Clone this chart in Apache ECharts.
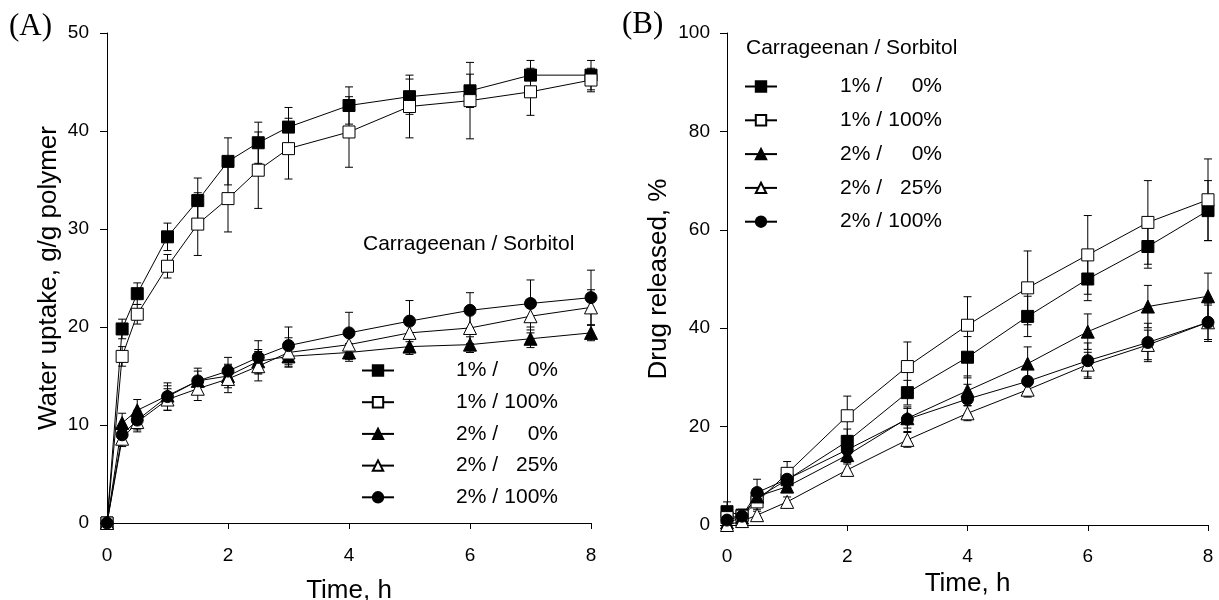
<!DOCTYPE html>
<html>
<head>
<meta charset="utf-8">
<script src="https://cdn.jsdelivr.net/npm/echarts@6/dist/echarts.min.js"></script>
<style>
  html, body { margin: 0; padding: 0; background: #fff; }
  #chart { width: 1219px; height: 600px; }
</style>
</head>
<body>
<div id="chart"></div>
<script>
const FONT = 'Arial, "Liberation Sans", sans-serif';

// legend names (carrageenan / sorbitol)
const groups = ['1% / 0%', '1% / 100%', '2% / 0%', '2% / 25%', '2% / 100%'];
const xTicks = [0, 2, 4, 6, 8];

// (A) water uptake, g/g polymer
const timeA = [0, 0.25, 0.5, 1, 1.5, 2, 2.5, 3, 4, 5, 6, 7, 8];
const uptake1_0 = [0, 19.8, 23.4, 29.2, 32.9, 36.9, 38.8, 40.4, 42.6, 43.5, 44.1, 45.7, 45.7];
const uptake1_0Err = [0, 1.0, 1.1, 1.4, 2.3, 2.4, 2.1, 2.0, 1.9, 1.8, 1.7, 1.5, 1.5];
const uptake1_100 = [0, 17.0, 21.3, 26.2, 30.5, 33.1, 36.0, 38.2, 39.9, 42.5, 43.1, 44.0, 45.2];
const uptake1_100Err = [0, 1.0, 1.0, 1.2, 3.2, 3.4, 3.9, 3.1, 3.6, 3.2, 3.9, 2.4, 1.2];
const uptake2_0 = [0, 10.2, 11.5, 13.0, 14.5, 15.0, 16.5, 17.0, 17.4, 18.0, 18.2, 18.8, 19.4];
const uptake2_0Err = [0, 1.0, 1.1, 1.0, 1.0, 1.2, 1.2, 1.0, 0.9, 0.8, 0.8, 0.9, 0.8];
const uptake2_25 = [0, 8.6, 10.3, 12.6, 13.7, 14.7, 16.0, 17.4, 18.2, 19.4, 19.9, 21.1, 22.0];
const uptake2_25Err = [0, 0.8, 1.0, 1.1, 1.2, 1.4, 1.5, 1.5, 1.5, 1.5, 1.6, 1.7, 1.8];
const uptake2_100 = [0, 9.0, 10.5, 12.9, 14.5, 15.5, 16.9, 18.1, 19.4, 20.6, 21.7, 22.4, 23.0];
const uptake2_100Err = [0, 1.0, 1.0, 1.4, 1.3, 1.4, 1.7, 1.9, 2.1, 2.1, 1.8, 2.4, 2.8];

// (B) drug released, %
const timeB = [0, 0.25, 0.5, 1, 2, 3, 4, 5, 6, 7, 8];
const release1_0 = [2.7, 2.0, 5.5, 9.2, 17.0, 26.9, 34.1, 42.4, 50.0, 56.6, 63.9];
const release1_0Err = [2.0, 1.2, 1.5, 1.5, 2.5, 2.5, 4.2, 4.1, 4.4, 4.4, 6.1];
const release1_100 = [1.5, 1.8, 4.7, 10.5, 22.2, 32.2, 40.6, 48.2, 54.9, 61.5, 66.1];
const release1_100Err = [1.5, 1.0, 1.5, 2.4, 4.0, 5.0, 5.8, 7.5, 8.0, 8.5, 8.3];
const release2_0 = [0.5, 1.5, 5.8, 7.8, 14.2, 21.7, 27.3, 32.8, 39.3, 44.4, 46.5];
const release2_0Err = [0.5, 0.8, 1.0, 1.2, 1.5, 2.0, 3.0, 3.4, 3.6, 4.3, 4.7];
const release2_25 = [0, 0.8, 2.0, 4.7, 11.2, 17.3, 22.7, 27.5, 32.6, 36.6, 41.2];
const release2_25Err = [0.3, 0.5, 0.8, 1.0, 1.2, 1.5, 1.5, 1.5, 2.5, 3.0, 3.5];
const release2_100 = [1.0, 1.8, 6.6, 9.3, 15.3, 21.5, 25.6, 29.2, 33.4, 37.1, 41.2];
const release2_100Err = [1.0, 0.8, 2.7, 1.5, 2.0, 2.5, 3.0, 3.0, 3.6, 3.9, 3.9];

// marker style per group
const markers = [
  { symbol: 'rect', size: 12, fill: '#000' },
  { symbol: 'rect', size: 12, fill: '#fff' },
  { symbol: 'triangle', size: 13, fill: '#000' },
  { symbol: 'triangle', size: 13, fill: '#fff' },
  { symbol: 'circle', size: 12, fill: '#000' }
];

function lineSeries(idx, times, values, axisIdx) {
  const m = markers[idx];
  return {
    name: groups[idx],
    type: 'line',
    xAxisIndex: axisIdx,
    yAxisIndex: axisIdx,
    data: times.map((t, i) => [t, values[i]]),
    symbol: m.symbol,
    symbolSize: m.size,
    showAllSymbol: true,
    lineStyle: { color: '#000', width: 1 },
    itemStyle: { color: m.fill, borderColor: '#000', borderWidth: 1 },
    z: 3
  };
}

function errorSeries(times, values, errs, axisIdx) {
  const pts = [];
  times.forEach((t, i) => {
    if (errs[i] > 0) pts.push([t, values[i] - errs[i], values[i] + errs[i]]);
  });
  return {
    type: 'custom',
    xAxisIndex: axisIdx,
    yAxisIndex: axisIdx,
    data: pts,
    silent: true,
    z: 2,
    renderItem: function (params, api) {
      const lo = api.coord([api.value(0), api.value(1)]);
      const hi = api.coord([api.value(0), api.value(2)]);
      const w = 4;
      const style = { stroke: '#000', lineWidth: 1 };
      return {
        type: 'group',
        children: [
          { type: 'line', shape: { x1: lo[0], y1: lo[1], x2: hi[0], y2: hi[1] }, style },
          { type: 'line', shape: { x1: lo[0] - w, y1: lo[1], x2: lo[0] + w, y2: lo[1] }, style },
          { type: 'line', shape: { x1: hi[0] - w, y1: hi[1], x2: hi[0] + w, y2: hi[1] }, style }
        ]
      };
    }
  };
}

function xAxisCfg(gridIdx, labelMargin, nameGap) {
  return {
    gridIndex: gridIdx,
    type: 'value',
    min: 0, max: 8, interval: 2,
    name: 'Time, h',
    nameLocation: 'middle',
    nameGap: nameGap,
    nameTextStyle: { fontFamily: FONT, fontSize: 26, color: '#000' },
    axisLine: { show: true, onZero: false, lineStyle: { color: '#000', width: 1 } },
    axisTick: { show: true, inside: false, length: 6, lineStyle: { color: '#000' } },
    axisLabel: { fontFamily: FONT, fontSize: 19, color: '#000', margin: labelMargin,
      formatter: v => xTicks.includes(v) ? String(v) : '' },
    splitLine: { show: false }
  };
}

function yAxisCfg(gridIdx, max, interval, name, labelMargin, nameGap) {
  return {
    gridIndex: gridIdx,
    type: 'value',
    min: 0, max: max, interval: interval,
    name: name,
    nameLocation: 'middle',
    nameGap: nameGap,
    nameTextStyle: { fontFamily: FONT, fontSize: 26, color: '#000' },
    axisLine: { show: true, onZero: false, lineStyle: { color: '#000', width: 1 } },
    axisTick: { show: true, inside: false, length: 7, lineStyle: { color: '#000' } },
    axisLabel: { fontFamily: FONT, fontSize: 19, color: '#000', margin: labelMargin },
    splitLine: { show: false }
  };
}

function legendCfg(left, top, gap, lead) {
  return {
    orient: 'vertical',
    left: left,
    top: top,
    padding: 0,
    data: groups,
    itemWidth: 32,
    itemHeight: 13,
    itemGap: gap,
    selectedMode: false,
    formatter: name => {
      const parts = name.split(' / ');
      return '{s|}{a|' + parts[0] + ' /}{b|' + parts[1] + '}';
    },
    textStyle: {
      fontFamily: FONT, fontSize: 21, color: '#000',
      rich: {
        s: { width: lead },
        a: { width: 44, fontFamily: FONT, fontSize: 21, color: '#000', lineHeight: 20 },
        b: { width: 58, align: 'right', fontFamily: FONT, fontSize: 21, color: '#000', lineHeight: 20 }
      }
    }
  };
}

const chart = echarts.init(document.getElementById('chart'), null, { renderer: 'canvas' });

const seriesA = [uptake1_0, uptake1_100, uptake2_0, uptake2_25, uptake2_100];
const errsA = [uptake1_0Err, uptake1_100Err, uptake2_0Err, uptake2_25Err, uptake2_100Err];
const seriesB = [release1_0, release1_100, release2_0, release2_25, release2_100];
const errsB = [release1_0Err, release1_100Err, release2_0Err, release2_25Err, release2_100Err];

const series = [];
seriesA.forEach((vals, i) => series.push(errorSeries(timeA, vals, errsA[i], 0)));
seriesB.forEach((vals, i) => series.push(errorSeries(timeB, vals, errsB[i], 1)));
seriesA.forEach((vals, i) => series.push(lineSeries(i, timeA, vals, 0)));
seriesB.forEach((vals, i) => series.push(lineSeries(i, timeB, vals, 1)));

const option = {
  animation: false,
  backgroundColor: '#fff',
  grid: [
    { left: 107, right: 628, top: 33, bottom: 77, outerBoundsMode: 'none' },
    { left: 727, right: 11, top: 33, bottom: 75, outerBoundsMode: 'none' }
  ],
  xAxis: [xAxisCfg(0, 23, 55), xAxisCfg(1, 22, 44)],
  yAxis: [
    yAxisCfg(0, 50, 10, 'Water uptake, g/g polymer', 18, 45),
    yAxisCfg(1, 100, 20, 'Drug released, %', 17, 55)
  ],
  legend: [legendCfg(361, 360, 10.7, 57), legendCfg(744, 76, 12.8, 58)],
  graphic: [
    { type: 'text', left: 9, top: 11, style: { text: '(A)', font: '31px "Times New Roman", "Liberation Serif", serif', fill: '#000' } },
    { type: 'text', left: 622, top: 9, style: { text: '(B)', font: '31px "Times New Roman", "Liberation Serif", serif', fill: '#000' } },
    { type: 'text', left: 363, top: 234, style: { text: 'Carrageenan / Sorbitol', font: '21px ' + FONT, fill: '#000' } },
    { type: 'text', left: 746, top: 38, style: { text: 'Carrageenan / Sorbitol', font: '21px ' + FONT, fill: '#000' } }
  ],
  series: series
};

chart.setOption(option);
</script>
</body>
</html>
